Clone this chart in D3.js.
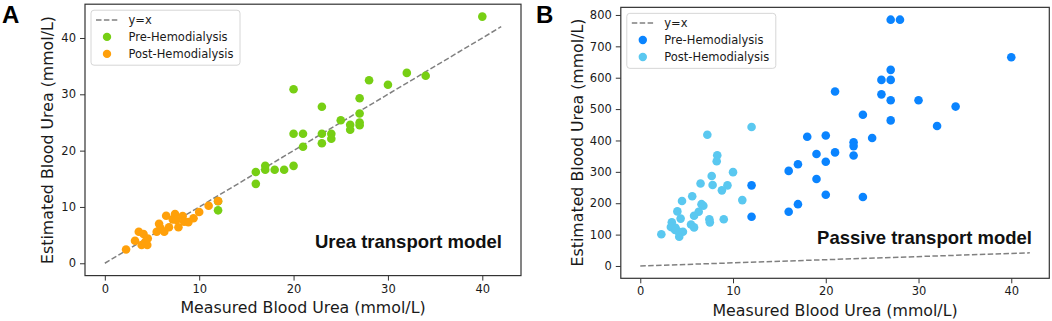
<!DOCTYPE html>
<html>
<head>
<meta charset="utf-8">
<script src="https://cdn.jsdelivr.net/npm/d3@7"></script>
<style>
  body { margin: 0; background: #fff; }
  svg { display: block; }
  .axis text { font-family: "DejaVu Sans", sans-serif; font-size: 11.5px; fill: #1a1a1a; }
  .axis path { display: none; }
  .axis line { stroke: #333; stroke-width: 1; }
  .lab { font-family: "DejaVu Sans", sans-serif; font-size: 15.8px; fill: #1a1a1a; }
  .leg { font-family: "DejaVu Sans", sans-serif; font-size: 11.5px; fill: #1a1a1a; }
  .note { font-family: "Liberation Sans", Arial, sans-serif; font-weight: bold; font-size: 18.5px; fill: #111; }
  .panel { font-family: "Liberation Sans", Arial, sans-serif; font-weight: bold; font-size: 24px; fill: #000; }
</style>
</head>
<body>
<div id="chart"></div>
<script>
// data, [measured, estimated]
const ureaPre = [[40,43.8],[32,33.8],[34,33.3],[28,32.5],[30,31.7],[20,30.9],[27,29.3],[23,27.8],[27,26.6],[25,25.4],
  [26,24.6],[27,25.0],[27,24.5],[26,23.7],[20,23.0],[21,23.0],[23,23.0],[24,23.0],[24,22.1],[23,21.3],[21,20.7],
  [16,16.2],[17,17.3],[17,16.6],[18,16.6],[19,16.6],[20,17.3],[16,14.1],[12,11.0],[12,9.4]]
const ureaPost = [[2.25,2.45],[3.2,4.0],[3.6,5.6],[4.1,5.2],[3.9,3.25],[4.5,3.25],[4.55,4.4],[4.3,3.8],[5.5,5.6],
  [5.75,7.0],[5.9,6.2],[6.3,5.6],[6.5,8.45],[6.8,6.4],[7.2,7.8],[7.44,8.75],[7.6,7.7],[7.8,6.4],[8.25,8.4],
  [8.4,7.4],[8.85,7.3],[9.4,8.0],[10.0,9.1],[11.0,10.2],[12.0,11.05]]
const passivePre = [[27,785],[28,785],[40,665],[27,625],[26,593],[27,593],[21,556],[26,547],[27,528],[30,528],
  [34,508],[24,482],[27,464],[32,446],[18,412],[20,416],[25,408],[23,394],[23,382],[19,357],[21,362],[23,352],
  [20,332],[17,324],[16,303],[19,277],[12,257],[20,227],[24,220],[17,197],[16,173],[12,157]]
const passivePost = [[2.27,101],[7.23,418],[12.0,443],[8.3,353],[8.24,334],[10.0,299],[7.7,287],[6.5,263],
  [7.8,258],[9.4,257],[8.8,241],[11.0,210],[5.6,222],[4.5,207],[4.0,174],[6.6,197],[6.8,192],[6.3,173],[5.8,160],
  [4.35,151],[7.45,149],[7.5,139],[9.0,149],[3.4,139],[3.3,124],[5.47,132],[5.8,123],[3.75,115],[4.6,109],
  [4.2,93],[4.1,110],[3.8,122]]
const identityLine = [[0,0],[42,42]]
const xTicks = [0,10,20,30,40]
const yTicksA = [0,10,20,30,40]
const yTicksB = [0,100,200,300,400,500,600,700,800]
const seriesNames = ['y=x','Pre-Hemodialysis','Post-Hemodialysis']

const svg = d3.select('#chart').append('svg').attr('width', 1052).attr('height', 321)

function panel(opt) {
    const { left, right, top, bottom } = opt.box
    const x = d3.scaleLinear([-2.1, 44.1], [left, right])
    const y = d3.scaleLinear(opt.yDomain, [bottom, top])
    const g = svg.append('g')

    // y=x
    g.append('path').datum(identityLine)
        .attr('d', d3.line(d => x(d[0]), d => y(d[1])))
        .attr('fill', 'none').attr('stroke', '#808080').attr('stroke-width', 1.5)
        .attr('stroke-dasharray', '5.5,2.4')

    g.selectAll('.pre').data(opt.pre).join('circle').attr('class', 'pre')
        .attr('cx', d => x(d[0])).attr('cy', d => y(d[1])).attr('r', 4.3)
        .attr('fill', opt.colors[0])
    g.selectAll('.post').data(opt.post).join('circle').attr('class', 'post')
        .attr('cx', d => x(d[0])).attr('cy', d => y(d[1])).attr('r', 4.3)
        .attr('fill', opt.colors[1])

    // axes
    g.append('g').attr('class', 'axis').attr('transform', `translate(0,${bottom})`)
        .call(d3.axisBottom(x).tickValues(xTicks).tickSize(5).tickPadding(4))
    g.append('g').attr('class', 'axis').attr('transform', `translate(${left},0)`)
        .call(d3.axisLeft(y).tickValues(opt.yTicks).tickSize(5).tickPadding(4))

    g.append('rect').attr('x', left).attr('y', top)
        .attr('width', right - left).attr('height', bottom - top)
        .attr('fill', 'none').attr('stroke', '#333').attr('stroke-width', 1.2)

    // legend
    const lg = g.append('g').attr('transform', `translate(${left + 6},${top + 6})`)
    lg.append('rect').attr('width', 149).attr('height', 55).attr('rx', 3)
        .attr('fill', 'rgba(255,255,255,0.85)').attr('stroke', '#d6d6d6')
    lg.append('line').attr('x1', 5).attr('x2', 28).attr('y1', 9.7).attr('y2', 9.7)
        .attr('stroke', '#808080').attr('stroke-width', 1.5).attr('stroke-dasharray', '5.5,2.4')
    lg.selectAll('.mk').data(opt.colors).join('circle').attr('class', 'mk')
        .attr('cx', 16).attr('cy', (d, i) => 26.7 + i * 17).attr('r', 4.2).attr('fill', d => d)
    lg.selectAll('.lt').data(seriesNames).join('text').attr('class', 'leg lt')
        .attr('x', 37.5).attr('y', (d, i) => 9.7 + i * 17).attr('dy', '0.35em').text(d => d)

    // labels
    g.append('text').attr('class', 'lab').attr('text-anchor', 'middle')
        .attr('x', (left + right) / 2).attr('y', opt.xLabY).text('Measured Blood Urea (mmol/L)')
    g.append('text').attr('class', 'lab').attr('text-anchor', 'middle')
        .attr('transform', `translate(${opt.yLabX},${opt.yLabC}) rotate(-90)`)
        .text('Estimated Blood Urea (mmol/L)')
    g.append('text').attr('class', 'note').attr('text-anchor', 'end')
        .attr('x', opt.note[1]).attr('y', opt.note[2]).text(opt.note[0])
    g.append('text').attr('class', 'panel').attr('x', opt.letter[1]).attr('y', 22.5).text(opt.letter[0])
}

panel({
    box: { left: 85, right: 521, top: 4.2, bottom: 275.6 },
    yDomain: [-2.19, 46.0], yTicks: yTicksA,
    pre: ureaPre, post: ureaPost, colors: ['#77cf14', '#ffa00a'],
    xLabY: 313, yLabX: 53, yLabC: 140,
    note: ['Urea transport model', 502, 248], letter: ['A', 2]
})
panel({
    box: { left: 620.8, right: 1049.3, top: 7.35, bottom: 278.3 },
    yDomain: [-39.25, 824.25], yTicks: yTicksB,
    pre: passivePre, post: passivePost, colors: ['#0a84ff', '#5ac8f0'],
    xLabY: 316, yLabX: 582.5, yLabC: 142.5,
    note: ['Passive transport model', 1032, 244], letter: ['B', 536]
})
</script>
</body>
</html>
